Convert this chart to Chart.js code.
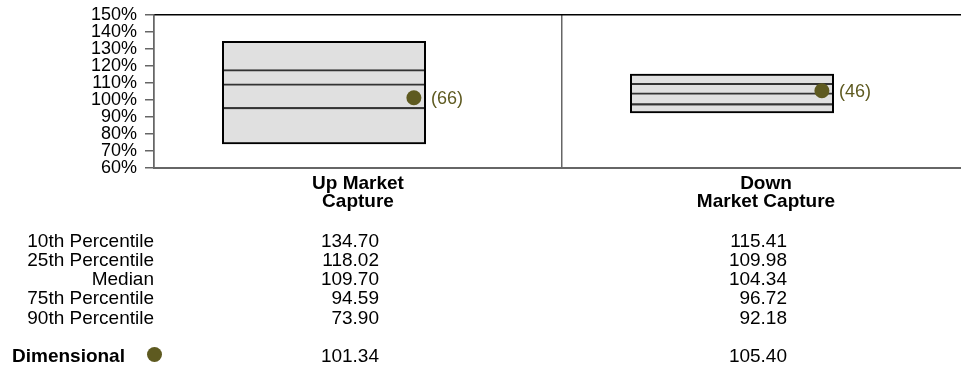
<!DOCTYPE html>
<html>
<head>
<meta charset="utf-8">
<script src="https://cdn.jsdelivr.net/npm/chart.js@4.4.0/dist/chart.umd.min.js"></script>
<style>
  html, body { margin: 0; padding: 0; background: #fff; overflow: hidden; }
  body { width: 961px; height: 366px; position: relative; font-family: "Liberation Sans", Arial, sans-serif; color: #000; }
  #chart-wrap { position: absolute; left: 0; top: 0; width: 970px; height: 215px; }
  #stats { position: absolute; left: 0; top: 0; width: 961px; height: 366px; font-size: 19px; line-height: 19.2px; }
  .cell { position: absolute; white-space: nowrap; text-align: right; }
  .dim-dot { position: absolute; width: 15px; height: 15px; border-radius: 50%; }
</style>
</head>
<body>
<div id="chart-wrap"><canvas id="capture-chart" width="970" height="215"></canvas></div>
<div id="stats"></div>
<script>
/*global Chart*/

// data
const categories = [["Up Market", "Capture"], ["Down", "Market Capture"]];
const p10 = [134.70, 115.41];
const p25 = [118.02, 109.98];
const median = [109.70, 104.34];
const p75 = [94.59, 96.72];
const p90 = [73.90, 92.18];
const dimensional = [101.34, 105.40];
const ranks = [66, 46];
const rowLabels = ["10th Percentile", "25th Percentile", "Median", "75th Percentile", "90th Percentile"];
const yMin = 60;
const yMax = 150;
const yStep = 10;

const OLIVE = "#5e5a20";
const BOX_SHIFT = -1 / 12; // box sits a bit left of the category centre
const DOT_SHIFT = 0.137;   // dot sits near the right edge of the box

Chart.defaults.font.family = '"Liberation Sans", Arial, sans-serif';

function boxData(lo, hi) {
  return categories.map((c, i) => ({ x: i + 0.5 + BOX_SHIFT, y: [lo[i], hi[i]] }));
}

const barCommon = {
  type: "bar",
  xAxisID: "xb",
  grouped: false,
  barPercentage: 0.5,
  categoryPercentage: 1,
  borderSkipped: false,
};

// draws "(66)" style rank next to each dot
const rankLabels = {
  id: "rankLabels",
  afterDatasetsDraw(chart) {
    const meta = chart.getDatasetMeta(0);
    const ctx = chart.ctx;
    ctx.save();
    ctx.font = '18px "Liberation Sans", Arial, sans-serif';
    ctx.fillStyle = OLIVE;
    ctx.textBaseline = "middle";
    ctx.textAlign = "left";
    meta.data.forEach((pt, i) => {
      ctx.fillText("(" + ranks[i] + ")", pt.x + 17, pt.y + 1);
    });
    ctx.restore();
  }
};

const ctx = document.getElementById("capture-chart").getContext("2d");

const chart = new Chart(ctx, {
  type: "bar",
  plugins: [rankLabels],
  data: {
    labels: categories,
    datasets: [
      {
        type: "scatter",
        label: "Dimensional",
        xAxisID: "xb",
        data: categories.map((c, i) => ({ x: i + 0.5 + DOT_SHIFT, y: dimensional[i] })),
        pointRadius: 7.5,
        pointBackgroundColor: OLIVE,
        pointBorderWidth: 0,
        order: 0,
      },
      Object.assign({}, barCommon, {
        label: "Range outline",
        data: boxData(p90, p10),
        backgroundColor: "rgba(0,0,0,0)",
        borderColor: "#000000",
        borderWidth: 2,
        order: 1,
      }),
      Object.assign({}, barCommon, {
        label: "Median",
        data: boxData(p75, median),
        backgroundColor: "rgba(0,0,0,0)",
        borderColor: "#333333",
        borderWidth: 2,
        order: 2,
      }),
      Object.assign({}, barCommon, {
        label: "Quartiles",
        data: boxData(p75, p25),
        backgroundColor: "rgba(0,0,0,0)",
        borderColor: "#333333",
        borderWidth: 2,
        order: 3,
      }),
      Object.assign({}, barCommon, {
        label: "Range",
        data: boxData(p90, p10),
        backgroundColor: "#e0e0e0",
        borderWidth: 0,
        order: 4,
      }),
    ],
  },
  options: {
    responsive: false,
    animation: false,
    layout: {
      autoPadding: false,
      padding: { top: 15, left: 0, right: 0, bottom: 0 },
    },
    scales: {
      x: {
        type: "category",
        position: "bottom",
        offset: true,
        grid: {
          offset: true,
          drawTicks: false,
          color: "#666666",
          lineWidth: 1.5,
        },
        border: { color: "#666666", width: 2 },
        ticks: {
          color: "#000000",
          padding: 7,
          maxRotation: 0,
          autoSkip: false,
          font: { size: 19, weight: "bold", lineHeight: "18px" },
        },
        afterFit: function (scale) {
          scale.height = 47;
        },
      },
      xt: {
        type: "category",
        position: "top",
        offset: true,
        grid: { display: false },
        ticks: { display: false },
        border: { color: "#000000", width: 1.5 },
        afterFit: function (scale) {
          scale.height = 0;
        },
      },
      xb: {
        type: "linear",
        display: false,
        offset: false,
        min: 0,
        max: categories.length,
        ticks: { stepSize: 1 },
      },
      y: {
        min: yMin,
        max: yMax,
        ticks: {
          stepSize: yStep,
          autoSkip: false,
          color: "#000000",
          padding: 8,
          font: { size: 18 },
          callback: function (value) {
            return value + "%";
          },
        },
        grid: {
          drawOnChartArea: false,
          tickLength: 9,
          color: "#666666",
          lineWidth: 1.5,
        },
        border: { color: "#666666", width: 1.5 },
        afterFit: function (scale) {
          scale.width = 154;
          scale.paddingTop = 0;
        },
      },
    },
    plugins: {
      legend: { display: false },
      tooltip: { enabled: false },
    },
  },
});

// statistics table under the chart, columns lined up with the categories
const stats = document.getElementById("stats");
const ROW_TOP = 230.7;
const ROW_STEP = 19.2;
const DIM_TOP = 345.7;
const LABEL_RIGHT = 154;
const VALUE_NUDGE = 21;

function addCell(text, right, top, bold) {
  const el = document.createElement("div");
  el.className = "cell";
  el.textContent = text;
  el.style.left = "0px";
  el.style.width = right + "px";
  el.style.top = top + "px";
  if (bold) el.style.fontWeight = "bold";
  stats.appendChild(el);
}

const columns = [p10, p25, median, p75, p90];
const valueRights = categories.map((c, i) => chart.scales.x.getPixelForValue(i) + VALUE_NUDGE);

rowLabels.forEach((label, r) => {
  const top = ROW_TOP + r * ROW_STEP;
  addCell(label, LABEL_RIGHT, top, false);
  valueRights.forEach((right, i) => addCell(columns[r][i].toFixed(2), right, top, false));
});

const dimLabel = document.createElement("div");
dimLabel.className = "cell";
dimLabel.textContent = "Dimensional";
dimLabel.style.left = "12px";
dimLabel.style.top = DIM_TOP + "px";
dimLabel.style.fontWeight = "bold";
dimLabel.style.textAlign = "left";
stats.appendChild(dimLabel);

const dot = document.createElement("span");
dot.className = "dim-dot";
dot.style.left = "147px";
dot.style.top = (DIM_TOP + 1.3) + "px";
dot.style.background = OLIVE;
stats.appendChild(dot);

valueRights.forEach((right, i) => addCell(dimensional[i].toFixed(2), right, DIM_TOP, false));
</script>
</body>
</html>
